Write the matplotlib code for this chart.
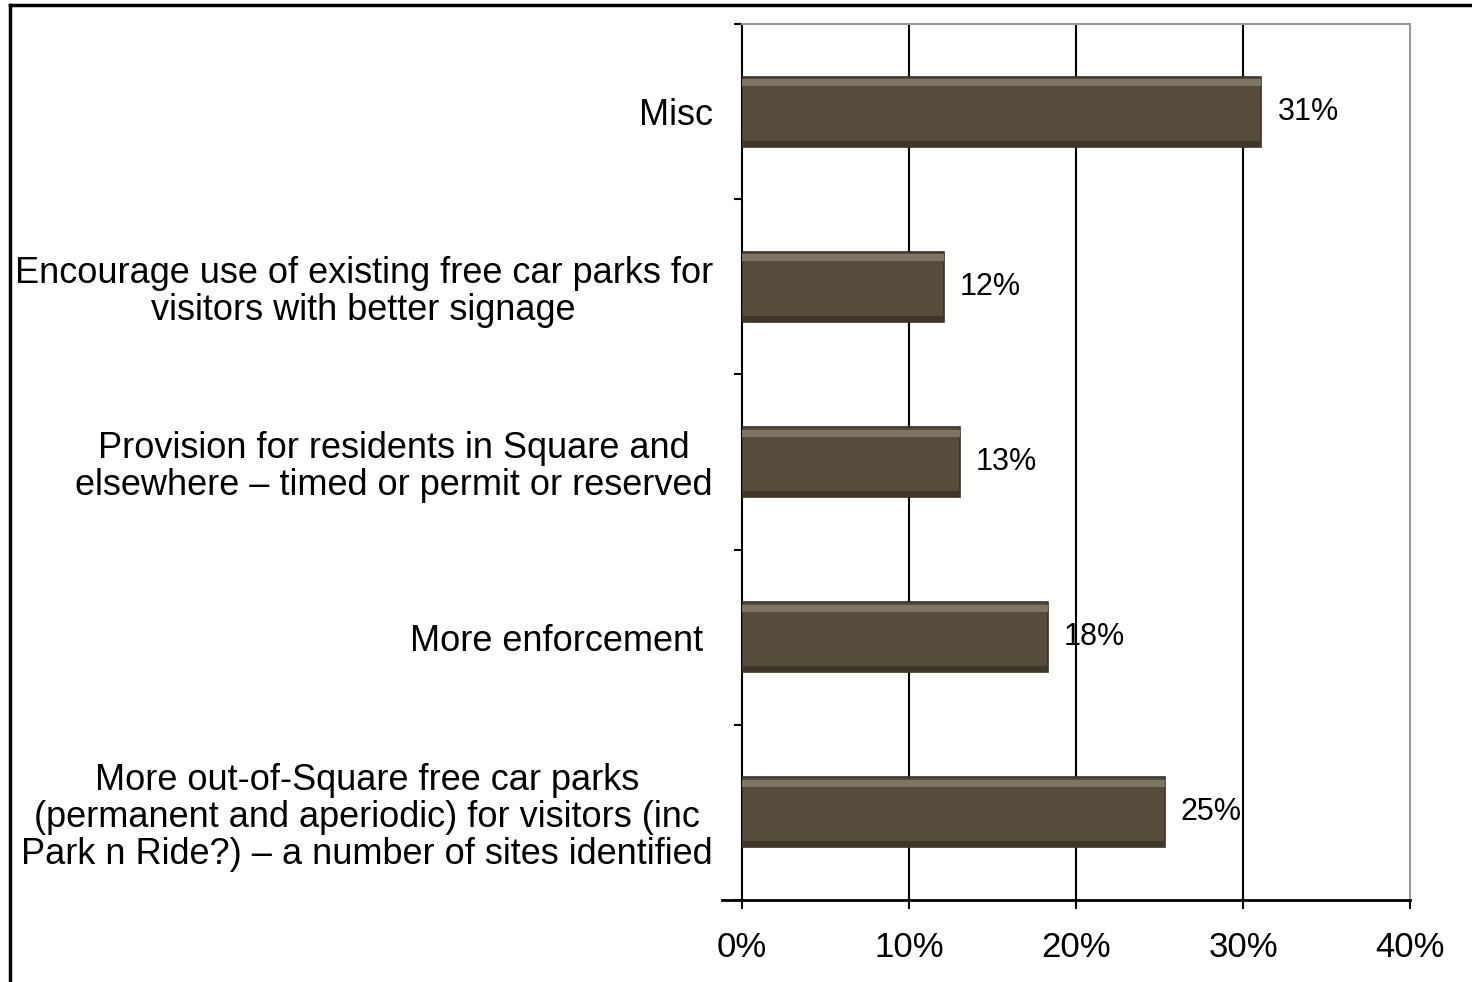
import matplotlib
matplotlib.use("Agg")
import matplotlib.pyplot as plt
from matplotlib.lines import Line2D

plt.rcParams['font.family'] = ['Liberation Sans', 'DejaVu Sans']

categories = [
    "More out-of-Square free car parks\n(permanent and aperiodic) for visitors (inc\nPark n Ride?) \u2013 a number of sites identified",
    "More enforcement ",
    "Provision for residents in Square and\nelsewhere \u2013 timed or permit or reserved",
    "Encourage use of existing free car parks for\nvisitors with better signage",
    "Misc",
]
values = [25.3, 18.3, 13.05, 12.1, 31.1]
value_labels = ["25%", "18%", "13%", "12%", "31%"]
x_ticks = [0, 10, 20, 30, 40]
x_ticklabels = ["0%", "10%", "20%", "30%", "40%"]

W, H = 1472, 982
fig = plt.figure(figsize=(W / 100, H / 100), dpi=100)
ax = fig.add_axes([742 / W, 1 - 900 / H, (1410 - 742) / W, (900 - 24) / H])

ypos = list(range(len(categories)))
bar_h = 0.40
ax.barh(ypos, values, height=bar_h, color="#554c3b",
        edgecolor="#3a3326", linewidth=1.2, zorder=3)
# bevel highlights derived from the bars
ax.barh([y + bar_h / 2 - 0.035 for y in ypos], values, height=0.04,
        color="#7d7462", linewidth=0, zorder=4)
ax.barh([y - bar_h / 2 + 0.02 for y in ypos], values, height=0.03,
        color="#3e3729", linewidth=0, zorder=4)

for y, v, lab in zip(ypos, values, value_labels):
    ax.annotate(lab, xy=(v, y), xytext=(16, 0), textcoords="offset pixels",
                ha="left", va="center", fontsize=22, color="black", zorder=5)

ax.set_xlim(0, 40)
ax.set_ylim(-0.5, len(categories) - 0.5)

ax.set_xticks(x_ticks)
ax.set_xticklabels(x_ticklabels, fontsize=25)
ax.tick_params(axis="x", direction="out", length=6.5, width=1.5, pad=16, color="black")

ax.set_yticks(ypos)
ax.set_yticklabels(categories, fontsize=26, multialignment="center", linespacing=1.08)
ax.tick_params(axis="y", length=0, pad=21)
ax.set_yticks([y - 0.5 for y in range(len(categories) + 1)], minor=True)
ax.tick_params(axis="y", which="minor", direction="out", length=6, width=1.5, color="black")

for x in x_ticks[1:-1]:
    ax.axvline(x, color="black", linewidth=1.5, zorder=1)

ax.spines["left"].set_color("black")
ax.spines["left"].set_linewidth(1.5)
ax.spines["bottom"].set_color("black")
ax.spines["bottom"].set_linewidth(2)
ax.spines["top"].set_color("#9a9a9a")
ax.spines["top"].set_linewidth(1.5)
ax.spines["right"].set_color("#9a9a9a")
ax.spines["right"].set_linewidth(1.5)

# bottom axis line extends slightly left (category tick at the bottom)
ax.plot([-20 / 16.7, 0], [-0.5, -0.5], color="black", linewidth=2, clip_on=False, zorder=5)

# outer figure border (left and top visible)
fig.add_artist(Line2D([9.5 / W, 9.5 / W], [0, 1 - 5 / H], transform=fig.transFigure,
                      color="black", linewidth=2.5))
fig.add_artist(Line2D([9.5 / W, 1], [1 - 5 / H, 1 - 5 / H], transform=fig.transFigure,
                      color="black", linewidth=2.5))

fig.savefig("out.png", dpi=100, facecolor="white")
